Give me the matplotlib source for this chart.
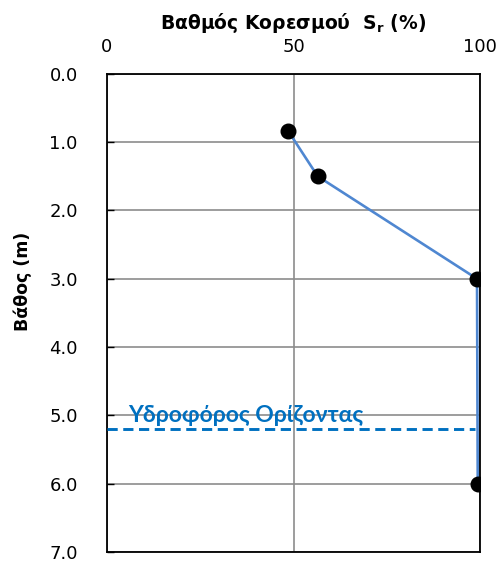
import matplotlib
matplotlib.use("Agg")
import matplotlib.pyplot as plt

plt.rcParams['font.family'] = ['DejaVu Sans']
plt.rcParams['mathtext.fontset'] = 'dejavusans'

# saturation (%) vs depth (m)
saturation = [48.5, 56.5, 99.2, 99.4]
depth = [0.83, 1.5, 3.0, 6.0]

water_table = 5.2
water_label = "Υδροφόρος Ορίζοντας"

x_ticks = [0, 50, 100]
y_ticks = [0, 1, 2, 3, 4, 5, 6, 7]

fig = plt.figure(figsize=(5.0, 5.68), dpi=100)
ax = fig.add_axes([0.214, 0.028, 0.746, 0.842])

ax.plot(saturation, depth, '-', color='#4F87D1', lw=1.9, zorder=3)
ax.plot(saturation, depth, 'o', color='black', ms=10.5, zorder=4)

ax.plot([0, 98.7], [water_table, water_table], color='#0070C0', lw=2.1,
        dashes=(3.5, 1.9), zorder=3)
ax.text(5.6, 5.09, water_label, color='#0070C0', fontsize=16.5,
        fontweight='bold', family=['Lato', 'DejaVu Sans'], va='baseline', zorder=5)

ax.set_xlim(0, 100)
ax.set_ylim(7, 0)
ax.set_xticks(x_ticks)
ax.set_yticks(y_ticks)
ax.set_yticklabels([f"{v:.1f}" for v in y_ticks])
ax.xaxis.tick_top()
ax.xaxis.set_label_position('top')
ax.tick_params(axis='x', length=0, pad=13, labelsize=13)
ax.tick_params(axis='y', direction='in', length=5, width=1, labelsize=13, pad=21)

ax.grid(True, color='#8c8c8c', lw=1.2, zorder=1)
for sp in ax.spines.values():
    sp.set_color('black')
    sp.set_linewidth(1.3)

ax.set_xlabel(r'Βαθμός Κορεσμού  $\mathbf{S_r}$ (%)', fontsize=13.5,
              fontweight='bold', labelpad=6)
ax.set_ylabel('Βάθος (m)', fontsize=12.5, fontweight='bold')
ax.yaxis.set_label_coords(-0.2, 0.567)

fig.savefig('out.png', dpi=100)
